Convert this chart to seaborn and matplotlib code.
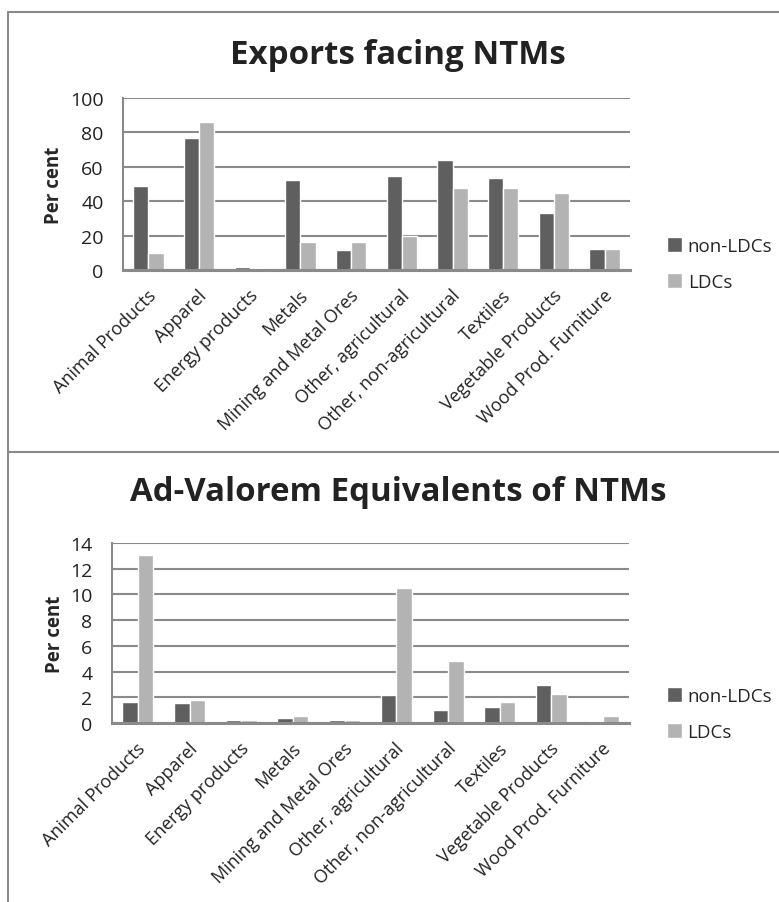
import matplotlib
matplotlib.use("Agg")
import matplotlib.pyplot as plt
import matplotlib.transforms as mtrans
import pandas as pd
import seaborn as sns
from matplotlib.lines import Line2D

sectors = ["Animal Products", "Apparel", "Energy products", "Metals",
           "Mining and Metal Ores", "Other, agricultural", "Other, non-agricultural",
           "Textiles", "Vegetable Products", "Wood Prod. Furniture"]
groups = ["non-LDCs", "LDCs"]

# Exports facing NTMs (per cent)
exports_non_ldc = [49, 76.7, 2, 52.5, 11.7, 54.5, 64, 53.5, 33, 12.5]
exports_ldc = [10.1, 85.8, 1, 16, 16, 19.8, 47.9, 47.9, 44.6, 12]

# Ad-valorem equivalents of NTMs (per cent)
ave_non_ldc = [1.65, 1.52, 0.2, 0.39, 0.2, 2.21, 1.0, 1.21, 2.96, 0.13]
ave_ldc = [13.05, 1.78, 0.23, 0.51, 0.23, 10.5, 4.84, 1.62, 2.24, 0.51]

sns.set_theme(style="white")
plt.rcParams["font.family"] = ["Open Sans", "DejaVu Sans"]

colors = {"non-LDCs": "#5f5f5f", "LDCs": "#b3b3b3"}
grid_col = "#8a8a8a"


def long_table(a, b):
    return pd.DataFrame({
        "sector": sectors * 2,
        "group": [groups[0]] * len(sectors) + [groups[1]] * len(sectors),
        "value": list(a) + list(b),
    })


fig = plt.figure(figsize=(7.79, 9.03), dpi=100)

# panel frames
for y in [13, 452.5]:
    fig.add_artist(Line2D([8 / 779, 1], [1 - y / 903] * 2, color=grid_col, lw=1.5,
                          transform=fig.transFigure))
fig.add_artist(Line2D([8 / 779] * 2, [0, 1 - 13 / 903], color=grid_col, lw=1.5,
                      transform=fig.transFigure))

panels = [
    ("Exports facing NTMs", exports_non_ldc, exports_ldc, [123, 99, 630, 271], 100, 20, 55, 0.035),
    ("Ad-Valorem Equivalents of NTMs", ave_non_ldc, ave_ldc, [112, 544, 629, 724], 14, 2, 493, 0.05),
]

shift = mtrans.ScaledTranslation(5 / 100, -3 / 100, fig.dpi_scale_trans)

for title, a, b, box, ymax, step, ty, leg_y in panels:
    x0, y0, x1, y1 = box
    ax = fig.add_axes([x0 / 779, 1 - y1 / 903, (x1 - x0) / 779, (y1 - y0) / 903])
    df = long_table(a, b)
    sns.barplot(data=df, x="sector", y="value", hue="group", palette=colors,
                width=0.6, gap=0, ax=ax, saturation=1, legend=True)
    ax.set_ylim(0, ymax)
    ax.set_xlim(-0.5, len(sectors) - 0.5)
    ax.set_yticks(range(0, ymax + 1, step))
    ax.yaxis.grid(True, color=grid_col, lw=1.5)
    ax.set_axisbelow(True)
    for s in ["top", "right"]:
        ax.spines[s].set_visible(False)
    ax.spines["left"].set_color(grid_col)
    ax.spines["left"].set_linewidth(1.5)
    ax.spines["bottom"].set_color(grid_col)
    ax.spines["bottom"].set_linewidth(2.2)
    ax.tick_params(axis="y", labelsize=14, pad=14, length=0, colors="#222222")
    ax.tick_params(axis="x", labelsize=13, length=0, pad=14, colors="#222222")
    for lab in ax.get_xticklabels():
        lab.set_rotation(45)
        lab.set_ha("right")
        lab.set_va("center")
        lab.set_rotation_mode("anchor")
        lab.set_transform(lab.get_transform() + shift)
    ax.set_xlabel("")
    ax.set_ylabel("Per cent", fontsize=13.5, fontweight="bold", labelpad=4)
    fig.text(398 / 779, 1 - ty / 903, title, ha="center", va="center", fontsize=23.8,
             fontweight="bold", color="#222222")
    handles, labels = ax.get_legend_handles_labels()
    ax.legend(handles, labels, loc="center left", bbox_to_anchor=(1.04, leg_y),
              frameon=False, fontsize=13.5, handlelength=0.8, handleheight=0.8,
              handletextpad=0.3, labelspacing=0.95)

fig.savefig("out.png", dpi=100)
